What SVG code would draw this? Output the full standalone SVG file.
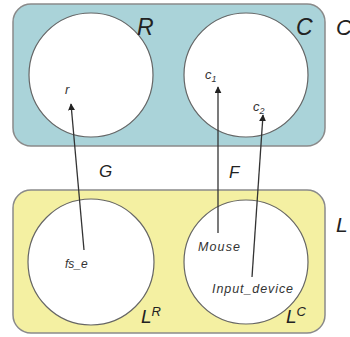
<svg xmlns="http://www.w3.org/2000/svg" width="350" height="337" viewBox="0 0 350 337">
<style>
.box{stroke:#8a8a8a;stroke-width:1.5}
.circ{fill:#fff;stroke:#666;stroke-width:1.2}
.lbl{font-family:"Liberation Sans",Arial,sans-serif;font-style:italic;fill:#222}
.sm{font-family:"Liberation Sans",Arial,sans-serif;font-style:italic;fill:#333}
.edge{stroke:#333;stroke-width:1.3;fill:none;marker-end:url(#ah)}
</style>
<defs>
<marker id="ah" viewBox="0 0 10 10" refX="9" refY="5" markerWidth="7" markerHeight="7" markerUnits="userSpaceOnUse" orient="auto">
<path d="M0,0 L10,5 L0,10 z" fill="#222"/>
</marker>
</defs>
<rect width="350" height="337" fill="#fff"/>
<g id="C">
<rect class="box" x="13" y="4" width="312" height="142" rx="18" fill="#aad3d9"/>
<text class="lbl" x="336" y="35" font-size="22" font-style="normal">C</text>
</g>
<g id="L">
<rect class="box" x="13" y="190" width="312" height="143" rx="18" fill="#f4f0a2"/>
<text class="lbl" x="336" y="232" font-size="21">L</text>
</g>
<g id="R-set">
<circle class="circ" cx="91" cy="75" r="62"/>
<text class="lbl" x="137" y="35" font-size="23">R</text>
<text class="sm" x="65" y="94" font-size="13">r</text>
</g>
<g id="C-set">
<circle class="circ" cx="246" cy="75" r="62"/>
<text class="lbl" x="296" y="35" font-size="23" font-style="normal">C</text>
<text class="sm" x="205" y="79" font-size="13">c<tspan font-size="9" dy="3">1</tspan></text>
<text class="sm" x="253" y="111" font-size="13">c<tspan font-size="9" dy="3">2</tspan></text>
</g>
<g id="LR-set">
<circle class="circ" cx="91" cy="262" r="63"/>
<text class="lbl" x="141" y="323" font-size="19">L<tspan font-size="13" dy="-7">R</tspan></text>
<text class="sm" x="65" y="268" font-size="12">fs_e</text>
</g>
<g id="LC-set">
<circle class="circ" cx="246" cy="262" r="62"/>
<text class="lbl" x="286" y="323" font-size="19">L<tspan font-size="13" dy="-7">C</tspan></text>
<text class="sm" x="198" y="251" font-size="12.5" textLength="42">Mouse</text>
<text class="sm" x="212" y="293" font-size="12.5" textLength="81">Input_device</text>
</g>
<g id="connectors">
<line class="edge" x1="84" y1="250" x2="71" y2="104"/>
<line class="edge" x1="218" y1="233" x2="218" y2="87"/>
<line class="edge" x1="252" y1="277" x2="263" y2="115"/>
<text class="lbl" x="99" y="177" font-size="17">G</text>
<text class="lbl" x="229" y="178" font-size="17">F</text>
</g>
</svg>
